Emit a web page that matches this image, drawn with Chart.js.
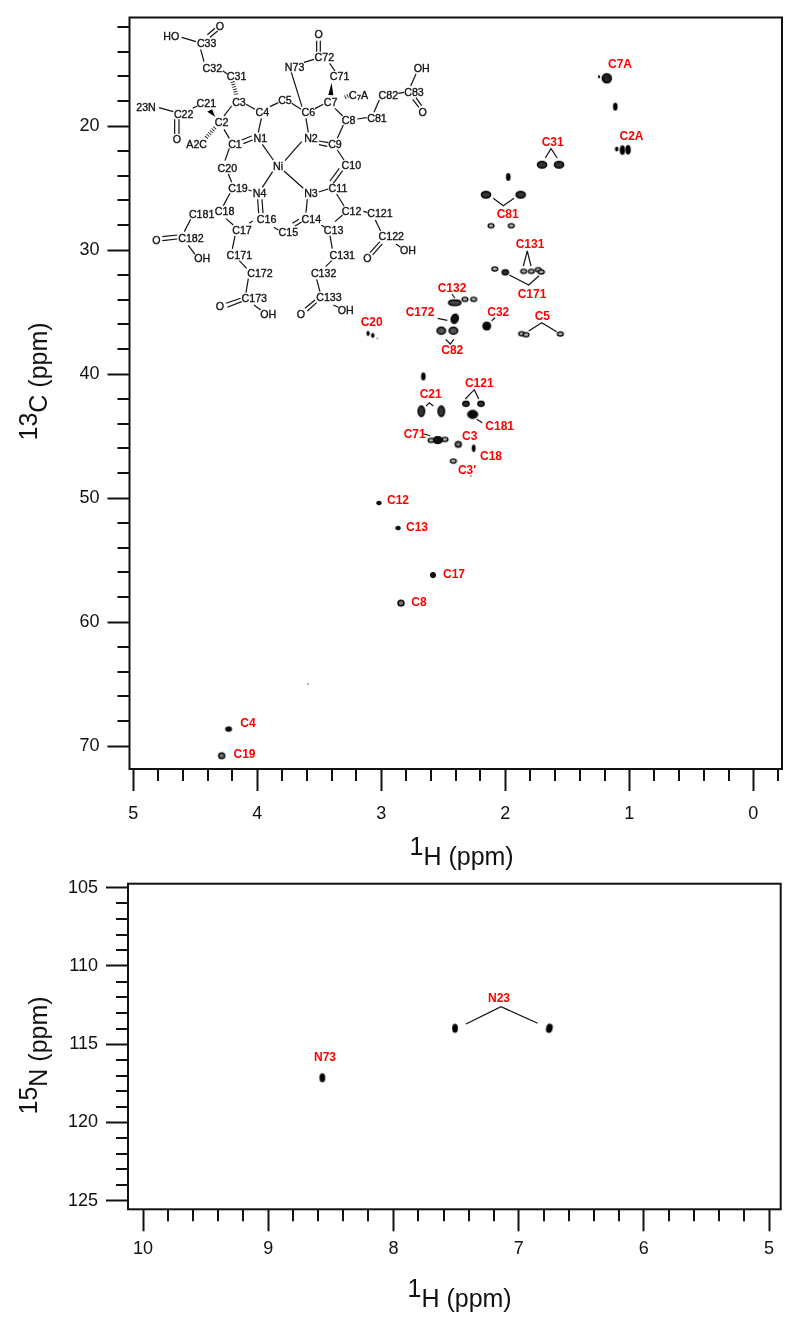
<!DOCTYPE html>
<html>
<head>
<meta charset="utf-8">
<title>NMR spectra</title>
<script src="https://cdn.jsdelivr.net/npm/chart.js@4/dist/chart.umd.js"></script>
<style>
  html, body { margin: 0; padding: 0; background: #fff; }
  #page { position: relative; width: 800px; height: 1327px; overflow: hidden; }
  canvas { position: absolute; left: 0; }
  #overlay { position: absolute; left: 0; top: 0; }
</style>
</head>
<body>
<div id="page">
  <canvas id="carbonChart" width="800" height="870" style="top:0"></canvas>
  <canvas id="nitrogenChart" width="800" height="457" style="top:870px"></canvas>
  <svg id="overlay" width="800" height="1327" xmlns="http://www.w3.org/2000/svg"></svg>
</div>
<script>
// 1H-13C spectrum, peak positions
const peakH = [1.182, 1.244, 1.113, 1.102, 1.056, 1.010, 1.704, 1.567, 1.976, 2.156, 1.876, 2.115, 1.952,
  2.085, 2.000, 1.852, 1.790, 1.734, 1.710, 2.255, 2.150, 1.868, 1.833, 1.556, 3.107, 3.069, 3.032,
  2.408, 2.325, 2.408, 2.516, 2.419, 2.661, 2.677, 2.516, 2.317, 2.196, 2.263, 2.545, 2.599, 2.486,
  2.379, 2.255, 2.419, 2.277, 3.019, 2.865, 2.583, 2.841, 4.231, 4.287, 3.591];
const peakC = [16.15, 16.02, 18.44, 21.85, 21.94, 21.91, 23.12, 23.12, 24.11, 25.54, 25.54, 28.04, 28.04,
  31.53, 31.80, 31.72, 31.72, 31.59, 31.77, 33.98, 36.13, 36.75, 36.83, 36.77, 36.72, 36.88, 37.12,
  34.25, 33.98, 35.54, 36.51, 36.51, 40.19, 43.00, 43.00, 42.40, 42.40, 43.25, 45.32, 45.35, 45.27,
  45.67, 45.99, 47.02, 48.23, 50.40, 52.42, 56.21, 58.47, 68.63, 70.78, 65.00];
const peakKind = ['target', 'speck', 'tall', 'dot', 'fat', 'fat', 'wide', 'wide', 'tall', 'wide', 'wide', 'ring', 'ring',
  'ring', 'oval', 'ring', 'ring', 'ring', 'ring', 'ring', 'full', 'ring', 'ring', 'ring', 'dot', 'dot', 'faint',
  'long', 'ring', 'tilted', 'big', 'big', 'tall', 'bar', 'bar', 'oval', 'oval', 'cluster', 'band', 'ring', 'ring',
  'round', 'narrow', 'ring', 'faint', 'flat', 'flat', 'small', 'round', 'solid', 'round', 'faint'];

// 1H-15N spectrum
const nitrogenH = [7.508, 6.755, 8.568];
const nitrogenN = [113.98, 113.98, 117.14];
const nitrogenKind = ['nitro', 'nitroTilt', 'nitro'];

// axis ticks
const carbonMajorX = [5, 4, 3, 2, 1, 0];
const carbonMinorX = [4.8, 4.6, 4.4, 4.2, 3.8, 3.6, 3.4, 3.2, 2.8, 2.6, 2.4, 2.2, 1.8, 1.6, 1.4, 1.2, 0.8, 0.6, 0.4, 0.2, -0.2];
const carbonMajorY = [20, 30, 40, 50, 60, 70];
const carbonMinorY = [12, 14, 16, 18, 22, 24, 26, 28, 32, 34, 36, 38, 42, 44, 46, 48, 52, 54, 56, 58, 62, 64, 66, 68];
const nitrogenMajorX = [10, 9, 8, 7, 6, 5];
const nitrogenMinorX = [9.8, 9.6, 9.4, 9.2, 8.8, 8.6, 8.4, 8.2, 7.8, 7.6, 7.4, 7.2, 6.8, 6.6, 6.4, 6.2, 5.8, 5.6, 5.4, 5.2];
const nitrogenMajorY = [105, 110, 115, 120, 125];
const nitrogenMinorY = [106, 107, 108, 109, 111, 112, 113, 114, 116, 117, 118, 119, 121, 122, 123, 124];

const shapes = {
  faint:   { rx: 0.8, ry: 0.8, fill: '#555', line: 0 },
  speck:   { rx: 1.2, ry: 1.5, fill: '#000', line: 0 },
  dot:     { rx: 1.7, ry: 2.5, fill: '#000', line: 0 },
  small:   { rx: 2.6, ry: 2.6, fill: '#111', line: 1 },
  flat:    { rx: 2.5, ry: 1.9, fill: '#111', line: 0.6 },
  narrow:  { rx: 1.9, ry: 3.7, fill: '#000', line: 0 },
  tall:    { rx: 2.3, ry: 4, fill: '#000', line: 0 },
  fat:     { rx: 2.7, ry: 4.7, fill: '#000', line: 0 },
  bar:     { rx: 3.2, ry: 5.2, fill: '#333', line: 1.5 },
  wide:    { rx: 4.6, ry: 3.2, fill: '#333', line: 1.5 },
  big:     { rx: 4.2, ry: 3.4, fill: '#555', line: 1.5 },
  oval:    { rx: 3.2, ry: 2.5, fill: '#333', line: 1.3 },
  long:    { rx: 6.2, ry: 2.7, fill: '#444', line: 1.4 },
  target:  { rx: 4.5, ry: 4.5, fill: '#222', line: 1.5 },
  full:    { rx: 4.5, ry: 4.5, fill: '#0a0a0a', line: 0 },
  solid:   { rx: 3.4, ry: 2.8, fill: '#0a0a0a', line: 0 },
  cluster: { rx: 5.2, ry: 4.2, fill: '#0a0a0a', line: 0.8 },
  band:    { rx: 5.2, ry: 3.6, fill: '#111', line: 1 },
  tilted:  { rx: 3.5, ry: 4.8, fill: '#111', line: 1.3, tilt: 0.3 },
  ring:    { rx: 2.9, ry: 2.1, fill: '#aaa', line: 1.3 },
  round:   { rx: 3, ry: 2.8, fill: '#777', line: 1.4 },
  nitro:   { rx: 2.9, ry: 4.6, fill: '#000', line: 0 },
  nitroTilt: { rx: 3.3, ry: 4.7, fill: '#000', line: 0, tilt: 0.25 }
};

function peakImage(name) {
  const s = shapes[name];
  const c = document.createElement('canvas');
  c.width = c.height = 18;
  const g = c.getContext('2d');
  g.beginPath();
  g.ellipse(9, 9, s.rx, s.ry, s.tilt || 0, 0, Math.PI * 2);
  g.fillStyle = s.fill;
  g.fill();
  if (s.line) {
    g.lineWidth = s.line;
    g.strokeStyle = '#000';
    g.stroke();
  }
  return c;
}

// frame and short ticks; the long ticks come from the axes themselves
const framePlugin = {
  id: 'frame',
  afterDraw(chart, args, opts) {
    const { ctx, chartArea: a, scales } = chart;
    ctx.save();
    ctx.strokeStyle = '#111';
    ctx.lineWidth = 2;
    ctx.strokeRect(a.left, a.top, a.right - a.left, a.bottom - a.top);
    ctx.beginPath();
    opts.minorX.forEach(v => {
      const x = Math.round(scales.x.getPixelForValue(v));
      ctx.moveTo(x, a.bottom);
      ctx.lineTo(x, a.bottom + 12);
    });
    opts.minorY.forEach(v => {
      const y = Math.round(scales.y.getPixelForValue(v));
      ctx.moveTo(a.left, y);
      ctx.lineTo(a.left - 12, y);
    });
    ctx.stroke();
    ctx.restore();
  }
};

function axis(range, major, fit, labelPad) {
  return {
    type: 'linear',
    reverse: true,
    min: range[0],
    max: range[1],
    border: { display: false },
    grid: { drawOnChartArea: false, drawTicks: true, tickLength: 22, tickWidth: 2, tickColor: '#111' },
    ticks: {
      color: '#111',
      padding: labelPad,
      autoSkip: false,
      maxRotation: 0,
      font: { family: '"Liberation Sans"', size: 18 },
      callback: v => String(v)
    },
    afterBuildTicks: s => { s.ticks = major.map(v => ({ value: v })); },
    afterFit: s => {
      fit(s);
      // keep the plot area where the layout padding puts it
      s.paddingTop = s.paddingBottom = s.paddingLeft = s.paddingRight = 0;
    }
  };
}

function spectrum(id, xs, ys, kinds, cfg) {
  return new Chart(document.getElementById(id), {
    type: 'scatter',
    data: {
      datasets: [{
        data: xs.map((x, i) => ({ x: x, y: ys[i] })),
        pointRadius: 4,
        pointBorderWidth: 0,
        pointStyle: c => peakImage(kinds[c.dataIndex])
      }]
    },
    options: {
      responsive: false,
      animation: false,
      events: [],
      layout: { padding: cfg.padding },
      plugins: {
        legend: { display: false },
        tooltip: { enabled: false },
        frame: { minorX: cfg.minorX, minorY: cfg.minorY }
      },
      scales: {
        x: axis(cfg.xRange, cfg.majorX, s => { s.height = cfg.xHeight; }, cfg.xPad),
        y: axis(cfg.yRange, cfg.majorY, s => { s.width = cfg.yWidth; }, 8)
      }
    },
    plugins: [framePlugin]
  });
}

spectrum('carbonChart', peakH, peakC, peakKind, {
  padding: { top: 17.5, right: 18, left: 0, bottom: 0 },
  xRange: [-0.231, 5.03], yRange: [11.25, 71.85],
  majorX: carbonMajorX, minorX: carbonMinorX, majorY: carbonMajorY, minorY: carbonMinorY,
  xHeight: 101, yWidth: 129.5, xPad: 12
});

spectrum('nitrogenChart', nitrogenH, nitrogenN, nitrogenKind, {
  padding: { top: 13.7, right: 19.3, left: 0, bottom: 0 },
  xRange: [4.907, 10.12], yRange: [104.74, 125.55],
  majorX: nitrogenMajorX, minorX: nitrogenMinorX, majorY: nitrogenMajorY, minorY: nitrogenMinorY,
  xHeight: 117.7, yWidth: 128, xPad: 7
});

// peak assignments: [text, centre x, centre y]
const assignLabels = [
  ['C7A', 620, 64], ['C2A', 631.5, 136], ['C31', 552.7, 142], ['C81', 507.7, 214], ['C131', 530, 243.5],
  ['C171', 532, 293.5], ['C5', 542.3, 315.5], ['C32', 498.3, 311.5], ['C132', 452, 287.5], ['C172', 420, 312],
  ['C82', 452.3, 350], ['C20', 371.7, 322], ['C21', 430.7, 394], ['C121', 479.3, 383], ['C181', 499.7, 425.5],
  ['C71', 414.7, 433.5], ['C3', 469.7, 435.5], ['C18', 491, 456], ['C3\'', 467, 469.5], ['C12', 398, 500],
  ['C13', 417, 527], ['C17', 454, 574], ['C8', 419, 602], ['C4', 248, 723], ['C19', 244.5, 754],
  ['N23', 499, 997.5], ['N73', 325, 1057]
];
const assignLines = [
  [545.3, 158, 551, 148.7, 557.3, 158], [493.3, 198.3, 503.3, 205.7, 514, 198.3], [523.3, 266, 527.3, 251, 531, 266],
  [509.3, 275, 528.7, 285, 539, 275.7], [491.7, 320.7, 495, 317.7], [528.7, 331, 541.7, 322.7, 556.7, 331.7],
  [452, 294, 454.7, 298], [437.7, 318.3, 447.3, 320.3], [445.7, 339.3, 450.3, 344, 453.7, 339.3],
  [426, 406, 429.3, 402.7, 433.3, 406], [465.3, 399, 474.3, 389.7, 478.7, 399], [476.7, 419.3, 482.3, 422.7],
  [423.3, 433.7, 430, 435.7], [466, 1024, 501, 1006.7, 537.7, 1023.3]
];

// structure drawn inset in the top spectrum, coordinates in 1/3 px
const atoms = [
  ['HO', 154, 77], ['O', 300, 48], ['C33', 260, 100], ['C32', 277, 173], ['C31', 350, 197], ['C3', 357, 275],
  ['C4', 427, 307], ['C5', 495, 270], ['C6', 565, 307], ['N73', 524, 170], ['C72', 613, 141], ['O', 596, 73],
  ['C71', 659, 197], ['C7', 632, 275], ['C8', 686, 331], ['C81', 771, 323], ['C82', 805, 254], ['C83', 882, 247],
  ['OH', 905, 173], ['O', 908, 307], ['23N', 78, 291], ['C21', 259, 279], ['C22', 191, 311], ['O', 171, 388],
  ['C2', 305, 336], ['A2C', 230, 401], ['C1', 345, 401], ['N1', 421, 385], ['N2', 573, 385], ['C9', 645, 401],
  ['C10', 694, 465], ['Ni', 474, 468], ['C20', 322, 473], ['C19', 354, 533], ['N4', 419, 550], ['N3', 573, 550],
  ['C11', 654, 533], ['C18', 314, 602], ['C181', 245, 611], ['C12', 695, 602], ['C121', 780, 610], ['C16', 440, 626],
  ['C14', 574, 626], ['C15', 505, 667], ['C17', 366, 659], ['C13', 641, 659], ['C182', 213, 683], ['O', 109, 691],
  ['OH', 247, 743], ['C122', 814, 679], ['O', 742, 743], ['OH', 864, 719], ['C171', 358, 735], ['C131', 667, 735],
  ['C172', 420, 788], ['C132', 611, 788], ['C173', 403, 864], ['C133', 627, 861], ['O', 300, 888], ['OH', 445, 912],
  ['O', 543, 912], ['OH', 677, 900]
];
const bonds = [
  [185, 82, 228, 95], [262, 74, 285, 55], [270, 82, 293, 63], [242, 118, 252, 155], [308, 182, 322, 192],
  [378, 283, 405, 298], [335, 288, 312, 318], [450, 290, 475, 278], [515, 280, 543, 298], [424, 325, 415, 367],
  [558, 325, 565, 367], [514, 187, 546, 290], [552, 157, 582, 148], [590, 92, 590, 125], [601, 92, 601, 125],
  [629, 160, 645, 183], [610, 283, 585, 296], [645, 295, 668, 318], [712, 327, 740, 323], [670, 345, 652, 385],
  [762, 307, 778, 270], [835, 250, 852, 247], [872, 228, 888, 192], [878, 268, 897, 292], [888, 263, 905, 287],
  [597, 393, 625, 398], [597, 404, 622, 409], [652, 420, 672, 450], [668, 482, 640, 520], [658, 475, 630, 513],
  [625, 537, 596, 546], [650, 552, 672, 588], [545, 395, 495, 452], [427, 403, 460, 450], [458, 485, 427, 532],
  [492, 483, 550, 535], [365, 390, 395, 378], [370, 401, 398, 390], [312, 358, 328, 385], [328, 415, 315, 452],
  [325, 492, 335, 517], [385, 540, 395, 543], [330, 550, 310, 587], [413, 568, 416, 610], [426, 568, 429, 610],
  [398, 633, 388, 640], [462, 652, 475, 660], [517, 640, 537, 628], [525, 648, 545, 636], [558, 608, 562, 568],
  [604, 646, 615, 652], [645, 635, 668, 615], [630, 677, 637, 716], [635, 752, 617, 770], [590, 808, 600, 845],
  [555, 895, 585, 870], [562, 903, 590, 878], [640, 885, 655, 892], [730, 604, 742, 607], [766, 630, 782, 663],
  [750, 728, 780, 695], [758, 735, 787, 702], [828, 702, 842, 712], [212, 628, 193, 665], [127, 680, 172, 675],
  [127, 692, 172, 687], [205, 706, 225, 733], [318, 626, 340, 645], [345, 678, 337, 717], [358, 752, 380, 775],
  [385, 806, 378, 848], [318, 880, 362, 865], [322, 892, 365, 875], [402, 885, 422, 900], [117, 293, 160, 305],
  [164, 328, 164, 372], [177, 328, 177, 372], [218, 295, 232, 288]
];
const wedges = ['635,218 625,255 640,256', '262,305 276,298 286,321'];
const hashes = [[338, 215, 350, 258], [285, 353, 258, 383], [675, 262, 690, 255]];

// axis titles: [superscript, rest, x, baseline y, rotated]
const axisTitles = [
  ['1', 'H (ppm)', 409.5, 865, false],
  ['13', 'C (ppm)', 46.5, 440.5, true],
  ['1', 'H (ppm)', 407.5, 1306.7, false],
  ['15', 'N (ppm)', 46.5, 1114.5, true]
];

let svg = '<g font-family="Liberation Sans" font-size="25" fill="#111">';
axisTitles.forEach(t => {
  const place = t[4] ? `transform="translate(${t[2]} ${t[3]}) rotate(-90)"` : `transform="translate(${t[2]} ${t[3]})"`;
  svg += `<text ${place}><tspan dy="-10">${t[0]}</tspan><tspan dy="10">${t[1]}</tspan></text>`;
});
svg += '</g><g font-family="Liberation Sans" font-weight="bold" font-size="12" fill="#f00" text-anchor="middle" dominant-baseline="central">';
assignLabels.forEach(l => { svg += `<text x="${l[1]}" y="${l[2]}">${l[0]}</text>`; });
svg += '</g><g fill="none" stroke="#111" stroke-width="1.2">';
assignLines.forEach(p => { svg += `<polyline points="${p.join(' ')}"/>`; });
svg += '</g><g transform="translate(120 10) scale(0.3333)">';
svg += '<g stroke="#111" stroke-width="3.6" fill="none">';
bonds.forEach(b => { svg += `<line x1="${b[0]}" y1="${b[1]}" x2="${b[2]}" y2="${b[3]}"/>`; });
hashes.forEach(b => { svg += `<line x1="${b[0]}" y1="${b[1]}" x2="${b[2]}" y2="${b[3]}" stroke-width="12" stroke-dasharray="2.5 5"/>`; });
svg += '</g>';
wedges.forEach(w => { svg += `<polygon points="${w}" fill="#000"/>`; });
svg += '<g font-family="Liberation Sans" font-size="32" fill="#111" stroke="#111" stroke-width="1" text-anchor="middle" dominant-baseline="central">';
atoms.forEach(a => { svg += `<text x="${a[1]}" y="${a[2]}">${a[0]}</text>`; });
svg += '<text x="716" y="255">C<tspan font-size="23" dy="6">7</tspan><tspan dy="-6">A</tspan></text>';
svg += '</g></g>';
document.getElementById('overlay').innerHTML = svg;
</script>
</body>
</html>
